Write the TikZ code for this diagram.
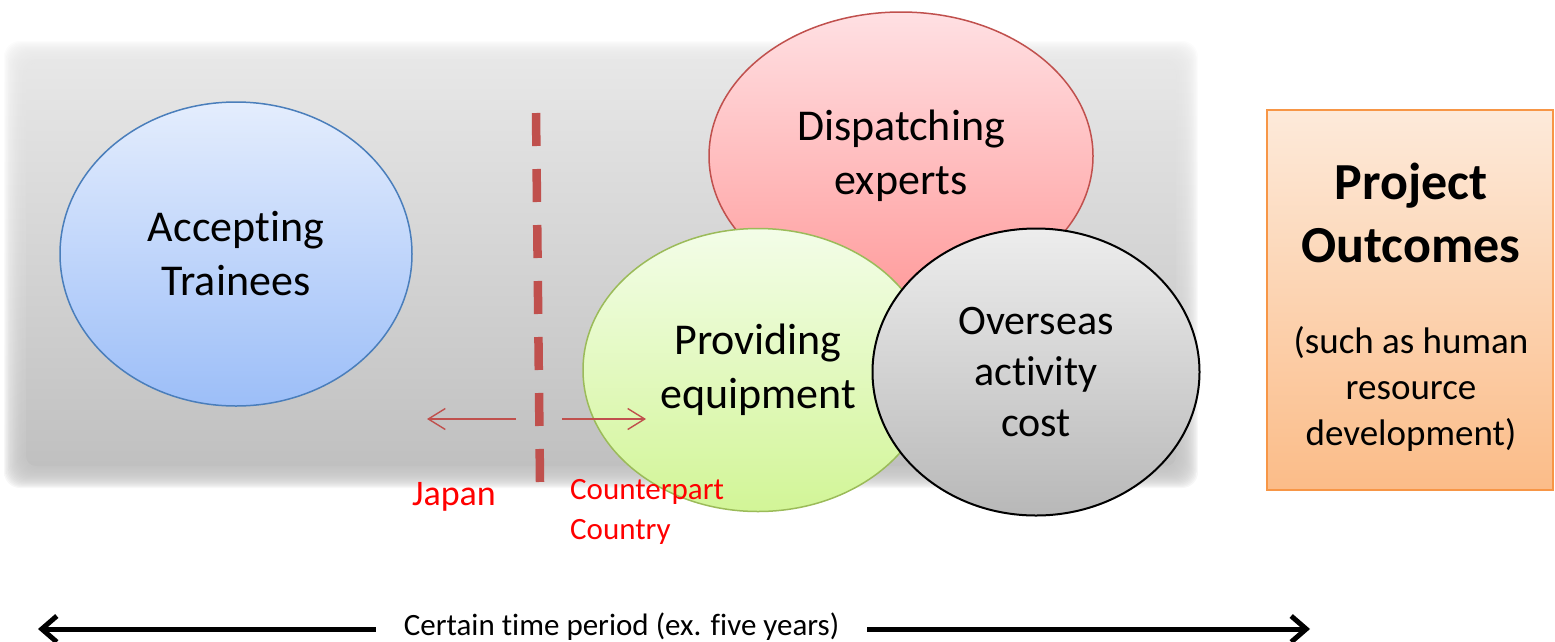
\documentclass[tikz,border=0pt]{standalone}
\usepackage{fontspec}
\setmainfont{Carlito}[Ligatures=NoCommon]
\usetikzlibrary{shapes.geometric,arrows.meta,shadings}

\definecolor{panelTop}{HTML}{E7E7E7}
\definecolor{panelBot}{HTML}{C0C0C0}
\definecolor{blueTop}{HTML}{E4EDFD}
\definecolor{blueBot}{HTML}{9CBEF8}
\definecolor{blueLine}{HTML}{4A7EBB}
\definecolor{redTop}{HTML}{FFE0E3}
\definecolor{redBot}{HTML}{FF9C9C}
\definecolor{redLine}{HTML}{C0504D}
\definecolor{greenTop}{HTML}{F3FDE8}
\definecolor{greenBot}{HTML}{D2F597}
\definecolor{greenLine}{HTML}{9BBB59}
\definecolor{grayTop}{HTML}{EDEDED}
\definecolor{grayBot}{HTML}{B8B8B8}
\definecolor{orangeTop}{HTML}{FDEADA}
\definecolor{orangeBot}{HTML}{FBBC88}
\definecolor{orangeLine}{HTML}{F79646}
\definecolor{labelRed}{HTML}{FF0000}

\begin{document}
\begin{tikzpicture}[x=1pt,y=-1pt,
  bubble/.style={ellipse,inner sep=0pt,line width=1.5pt,align=center,
    font=\fontsize{44}{54}\selectfont},
  outcome/.style={rectangle,inner sep=0pt,line width=1.8pt,
    top color=orangeTop,bottom color=orangeBot,draw=orangeLine},
  divider/.style={draw=redLine,line width=8.5pt,dash pattern=on 33pt off 23pt},
  sidearrow/.style={draw=redLine,line width=1.4pt,
    -{Straight Barb[length=17pt,width=21pt]}},
  sidelabel/.style={text=labelRed,inner sep=0pt},
  span/.style={draw=black,line width=5pt,
    {Straight Barb[length=15pt,width=26pt]}-{Straight Barb[length=15pt,width=26pt]}}
]
\useasboundingbox (0,0) rectangle (1555,641);

% soft-edged grey backdrop panel
\foreach \k in {0,...,19} {
  \shade[top color=panelTop,bottom color=panelBot,fill opacity=0.13,rounded corners=16pt]
    (4+1.1*\k,41+1.1*\k) rectangle (1198-1.1*\k,488-1.1*\k);
}
\shade[top color=panelTop,bottom color=panelBot,rounded corners=10pt]
  (26,63) rectangle (1176,466);

% the four kinds of cooperation
\node[bubble,top color=blueTop,bottom color=blueBot,draw=blueLine,
  minimum width=352pt,minimum height=304pt] (trainees) at (236,254)
  {Accepting\\Trainees};
\node[bubble,top color=redTop,bottom color=redBot,draw=redLine,
  minimum width=384pt,minimum height=288pt] (experts) at (901,156)
  {Dispatching\\experts};
\node[bubble,top color=greenTop,bottom color=greenBot,draw=greenLine,
  minimum width=350pt,minimum height=283pt] (equipment) at (758,370)
  {Providing\\equipment};
\node[bubble,top color=grayTop,bottom color=grayBot,draw=black,line width=2pt,
  minimum width=327pt,minimum height=287pt,font=\fontsize{42}{51}\selectfont]
  (overseas) at (1036,372) {Overseas\\activity\\cost};

% outcome box
\node[outcome,minimum width=286pt,minimum height=380pt] (outcomes) at (1410,300) {};
\node[align=center,font=\fontsize{52}{63}\selectfont\bfseries] (outTitle)
  at (1411,213) {Project\\Outcomes};
\node[align=center,font=\fontsize{37}{46}\selectfont] (outNote)
  at (1411,389) {(such as human\\resource\\development)};

% border between Japan and the counterpart country
\coordinate (divTop) at (536,113);
\coordinate (divBot) at (540,482);
\draw[divider] (divTop) -- (divBot);

\coordinate (jpFrom) at (516,419);
\coordinate (jpTo) at (427,419);
\coordinate (cpFrom) at (562,419);
\coordinate (cpTo) at (646,419);
\draw[sidearrow] (jpFrom) -- (jpTo);
\draw[sidearrow] (cpFrom) -- (cpTo);

\node[sidelabel,font=\fontsize{36}{44}\selectfont] (japan) at (454,497) {Japan};
\node[sidelabel,anchor=west,align=left,font=\fontsize{31}{40}\selectfont]
  (counterpart) at (570,512) {Counterpart\\Country};

% time span
\coordinate (spanL) at (38,629);
\coordinate (spanR) at (1310,629);
\draw[span] (spanL) -- (spanR);
\node[fill=white,inner xsep=28pt,inner ysep=2pt,font=\fontsize{31}{38}\selectfont]
  (period) at (621.5,627) {Certain time period (ex. five years)};
\end{tikzpicture}
\end{document}
